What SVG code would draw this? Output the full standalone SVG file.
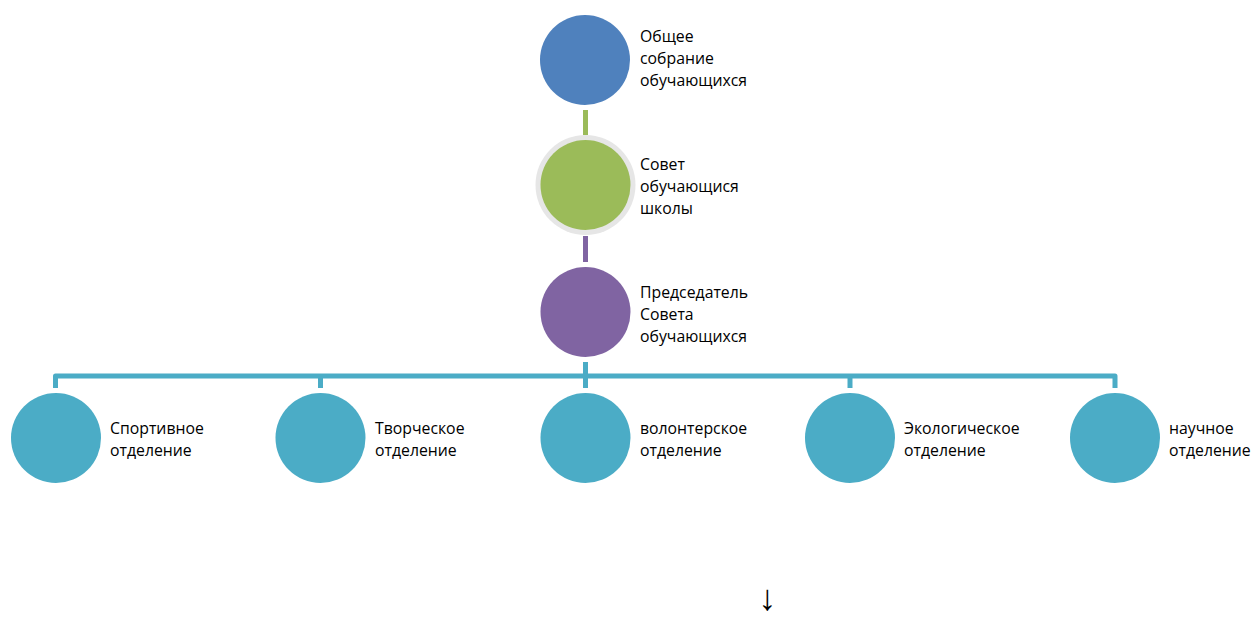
<svg xmlns="http://www.w3.org/2000/svg" width="1252" height="619" viewBox="0 0 1252 619">
<style>
text{font-family:"Open Sans","Liberation Sans",sans-serif;font-size:15.8px;fill:#000}
.c{fill:#4BACC6}
.bar{fill:none;stroke:#4BACC6;stroke-width:5;stroke-linejoin:round}
</style>
<rect width="1252" height="619" fill="#fff"/>
<g id="connectors">
<line x1="585.5" y1="110" x2="585.5" y2="135" stroke="#9BBB59" stroke-width="5"/>
<line x1="585.5" y1="236" x2="585.5" y2="262" stroke="#8064A2" stroke-width="5"/>
<line x1="585.5" y1="362" x2="585.5" y2="376" class="bar"/>
<path class="bar" d="M55.5 388 V376 H1115 V388"/>
<line x1="320.5" y1="376" x2="320.5" y2="388" class="bar"/>
<line x1="585.5" y1="376" x2="585.5" y2="388" class="bar"/>
<line x1="850" y1="376" x2="850" y2="388" class="bar"/>
</g>
<g id="node-general">
<circle cx="585" cy="60" r="45" fill="#4F81BD"/>
<text x="640" y="42">Общее</text>
<text x="640" y="64">собрание</text>
<text x="640" y="86">обучающихся</text>
</g>
<g id="node-council">
<circle cx="585.5" cy="185" r="50" fill="#E6E6E6"/>
<circle cx="585.5" cy="185" r="45" fill="#9BBB59"/>
<text x="640" y="170">Совет</text>
<text x="640" y="192">обучающися</text>
<text x="640" y="214">школы</text>
</g>
<g id="node-chair">
<circle cx="585.5" cy="312" r="45" fill="#8064A2"/>
<text x="640" y="298">Председатель</text>
<text x="640" y="320">Совета</text>
<text x="640" y="342">обучающихся</text>
</g>
<g id="node-sport">
<circle class="c" cx="56" cy="438" r="45"/>
<text x="110" y="434">Спортивное</text>
<text x="110" y="456">отделение</text>
</g>
<g id="node-creative">
<circle class="c" cx="320.5" cy="438" r="45"/>
<text x="375" y="434">Творческое</text>
<text x="375" y="456">отделение</text>
</g>
<g id="node-volunteer">
<circle class="c" cx="585.5" cy="438" r="45"/>
<text x="640" y="434">волонтерское</text>
<text x="640" y="456">отделение</text>
</g>
<g id="node-eco">
<circle class="c" cx="850" cy="438" r="45"/>
<text x="904" y="434">Экологическое</text>
<text x="904" y="456">отделение</text>
</g>
<g id="node-science">
<circle class="c" cx="1115" cy="438" r="45"/>
<text x="1169" y="434">научное</text>
<text x="1169" y="456">отделение</text>
</g>
<text x="767.5" y="610" text-anchor="middle" style="font-family:'Liberation Serif',serif;font-size:36px">↓</text>
</svg>
